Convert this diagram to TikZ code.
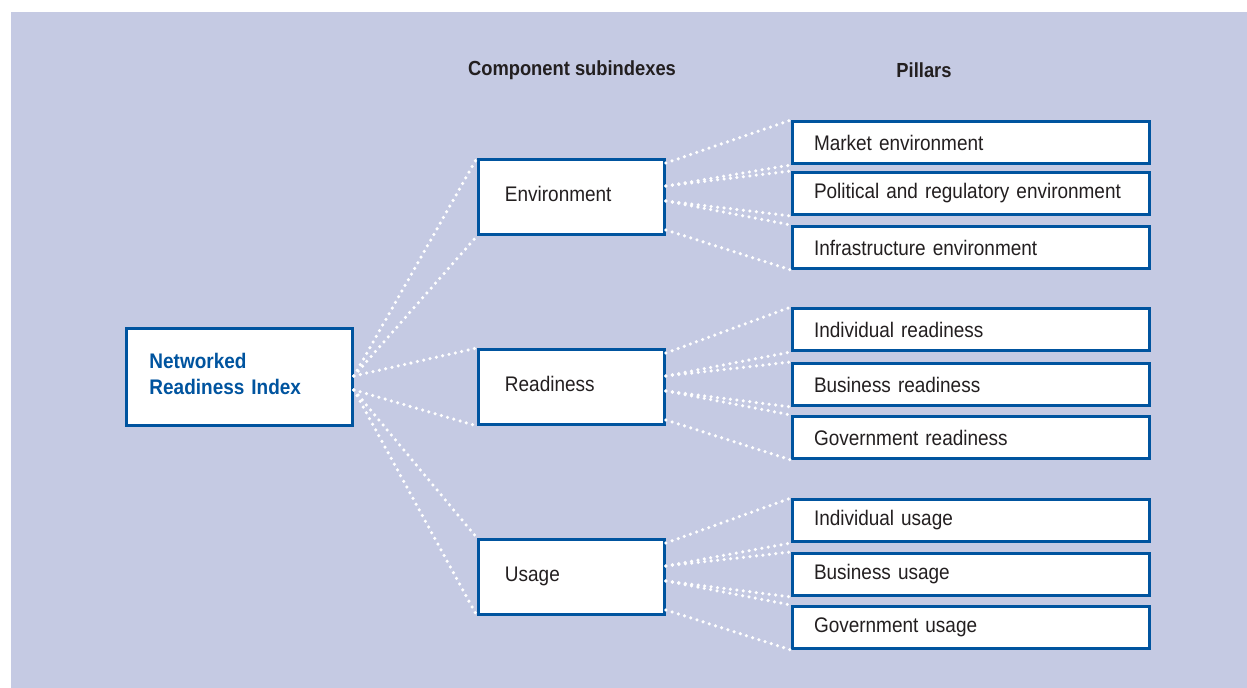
\documentclass[tikz,border=0pt]{standalone}
\usepackage{fontspec}
\setmainfont{Liberation Sans}[FakeStretch=0.9]
\usetikzlibrary{positioning}

\definecolor{nriblue}{RGB}{0,84,159}
\definecolor{panel}{RGB}{197,202,227}
\definecolor{ink}{RGB}{35,31,32}

\tikzset{
  box/.style={draw=nriblue, line width=1.7pt, fill=white, anchor=north west,
    align=left, text=ink, font=\fontsize{12}{15}\selectfont},
  indexbox/.style={box, minimum width=4.52cm, minimum height=1.94cm,
    text width=3.6cm, inner xsep=0.43cm, text=nriblue, text depth=18.6pt,
    font=\bfseries\fontsize{12}{15}\selectfont},
  subbox/.style={box, minimum width=3.72cm, minimum height=1.5cm,
    text width=2.66cm, inner xsep=0.53cm, text depth=3.6pt},
  pillar/.style={box, minimum width=7.14cm, minimum height=0.84cm,
    text width=6.28cm, inner xsep=0.43cm},
  link/.style={draw=white, line width=2pt, line cap=round,
    dash pattern=on 0pt off 3.7pt},
  colhead/.style={text=ink, font=\bfseries\fontsize{11.6}{14}\selectfont}
}

\begin{document}
\begin{tikzpicture}[x=0.02cm, y=-0.02cm]
\useasboundingbox (0,0) rectangle (1247,688);
\fill[panel] (11,12) rectangle (1247,688);

% column heads
\node[colhead] (hsub) at (572,70) {Component subindexes};
\node[colhead] (hpil) at (924,70) {Pillars};

% index and subindexes
\node[indexbox] (nri) at (125,327) {Networked\\Readiness Index};
\node[subbox] (env) at (477,158) {Environment};
\node[subbox] (rea) at (477,348) {Readiness};
\node[subbox] (use) at (477,538) {Usage};

% pillars
\node[pillar] (p1) at (791,120) {Market environment};
\node[pillar] (p2) at (791,171) {Political and regulatory environment};
\node[pillar] (p3) at (791,225) {Infrastructure environment};
\node[pillar] (p4) at (791,307) {Individual readiness};
\node[pillar] (p5) at (791,362) {Business readiness};
\node[pillar] (p6) at (791,415) {Government readiness};
\node[pillar] (p7) at (791,498) {Individual usage};
\node[pillar] (p8) at (791,552) {Business usage};
\node[pillar] (p9) at (791,605) {Government usage};

% fan out points
\coordinate (nu) at ([yshift=0.02cm]nri.east);
\coordinate (nd) at ([yshift=-0.26cm]nri.east);
\foreach \s in {env,rea,use} {
  \coordinate (\s1) at ([yshift=-0.1cm]\s.north east);
  \coordinate (\s2) at ([yshift=-0.56cm]\s.north east);
  \coordinate (\s3) at ([yshift=-0.86cm]\s.north east);
  \coordinate (\s4) at ([yshift=0.12cm]\s.south east);
}

% index to subindexes
\draw[link] (nu) -- (env.north west);
\draw[link] (nu) -- (env.south west);
\draw[link] (nu) -- (rea.north west);
\draw[link] (nd) -- (rea.south west);
\draw[link] (nd) -- (use.north west);
\draw[link] (nd) -- (use.south west);

% subindexes to pillars
\foreach \s/\a/\b/\c in {env/p1/p2/p3, rea/p4/p5/p6, use/p7/p8/p9} {
  \draw[link] (\s1) -- (\a.north west);
  \draw[link] (\s2) -- (\a.south west);
  \draw[link] (\s2) -- (\b.north west);
  \draw[link] (\s3) -- (\b.south west);
  \draw[link] (\s3) -- (\c.north west);
  \draw[link] (\s4) -- (\c.south west);
}
\end{tikzpicture}
\end{document}
